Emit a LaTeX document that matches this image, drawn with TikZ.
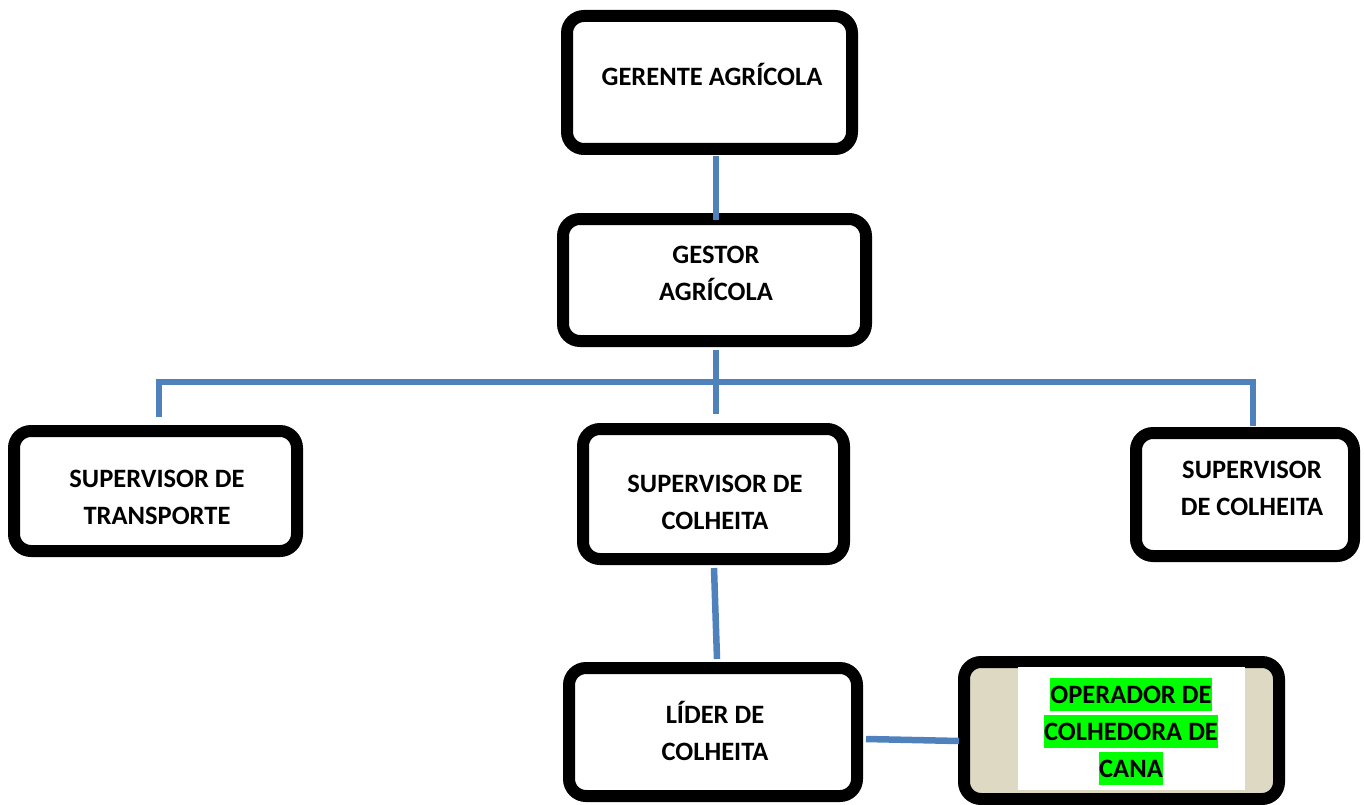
\documentclass[tikz,border=0pt]{standalone}
\usepackage{fontspec}
\setmainfont{Carlito}
\usetikzlibrary{calc}
\definecolor{connblue}{HTML}{4F81BD}
\definecolor{beige}{HTML}{DDD9C3}
\definecolor{hlgreen}{HTML}{00FF00}
\newcommand\hlg[1]{{\setlength\fboxsep{0pt}\colorbox{hlgreen}{\rule[-7.6pt]{0pt}{33pt}#1}}}
\tikzset{
  x=1pt,y=1pt,
  orgbox/.style={draw=black, line width=12pt, rounded corners=17pt, fill=white, inner sep=0pt},
  orgtext/.style={align=center, inner sep=0pt, font=\fontsize{26.5}{37}\selectfont\bfseries},
  conn/.style={draw=connblue, line width=6.5pt}
}
\begin{document}
\begin{tikzpicture}
\useasboundingbox (0,0) rectangle (1364,-805);
% boxes
\node[orgbox, minimum width=285pt, minimum height=133pt] (ger) at (709.5,-82.5) {};
\node[orgbox, minimum width=303pt, minimum height=122pt] (ges) at (714.5,-280) {};
\node[orgbox, minimum width=283pt, minimum height=120pt] (st) at (155.5,-491) {};
\node[orgbox, minimum width=261pt, minimum height=130pt] (sc) at (713.5,-494) {};
\node[orgbox, minimum width=218pt, minimum height=123pt] (sr) at (1245,-494.5) {};
\node[orgbox, minimum width=288pt, minimum height=128pt] (lid) at (713,-732) {};
\node[orgbox, fill=beige, minimum width=315pt, minimum height=137pt] (op) at (1121.5,-730.5) {};
\node[fill=white, inner sep=0pt, minimum width=227pt, minimum height=123pt] (opw) at (1131.5,-728.5) {};
% texts
\node[orgtext] (ger-t) at (712,-78) {\strut GERENTE AGRÍCOLA};
\node[orgtext] (ges-t) at (716,-275) {\strut GESTOR\\\strut AGRÍCOLA};
\node[orgtext] (st-t) at (157,-499) {\strut SUPERVISOR DE\\\strut TRANSPORTE};
\node[orgtext] (sc-t) at (715,-503.5) {\strut SUPERVISOR DE\\\strut COLHEITA};
\node[orgtext] (sr-t) at (1252,-490) {\strut SUPERVISOR\\\strut DE COLHEITA};
\node[orgtext] (lid-t) at (715,-734.5) {\strut LÍDER DE\\\strut COLHEITA};
\node[orgtext] (op-t) at (1131,-731.5) {\hlg{OPERADOR DE}\\\hlg{COLHEDORA DE}\\\hlg{CANA}};
% connectors
\draw[conn] ([xshift=6.5pt,yshift=-1pt]ger.south) -- ([xshift=1.5pt,yshift=-7pt]ges.north);
\draw[conn] ([xshift=1.5pt,yshift=-3pt]ges.south) -- ([xshift=2.5pt,yshift=9pt]sc.north);
\draw[conn] ([xshift=3.5pt,yshift=8pt]st.north) |- ([xshift=1.5pt,yshift=-35pt]ges.south) -| ([xshift=8pt,yshift=1pt]sr.north);
\draw[conn] ([xshift=0.5pt,yshift=-3pt]sc.south) -- ([xshift=4pt,yshift=3pt]lid.north);
\draw[conn] ([xshift=3pt,yshift=-7pt]lid.east) -- ([xshift=1pt,yshift=-10.5pt]op.west);
\end{tikzpicture}
\end{document}
